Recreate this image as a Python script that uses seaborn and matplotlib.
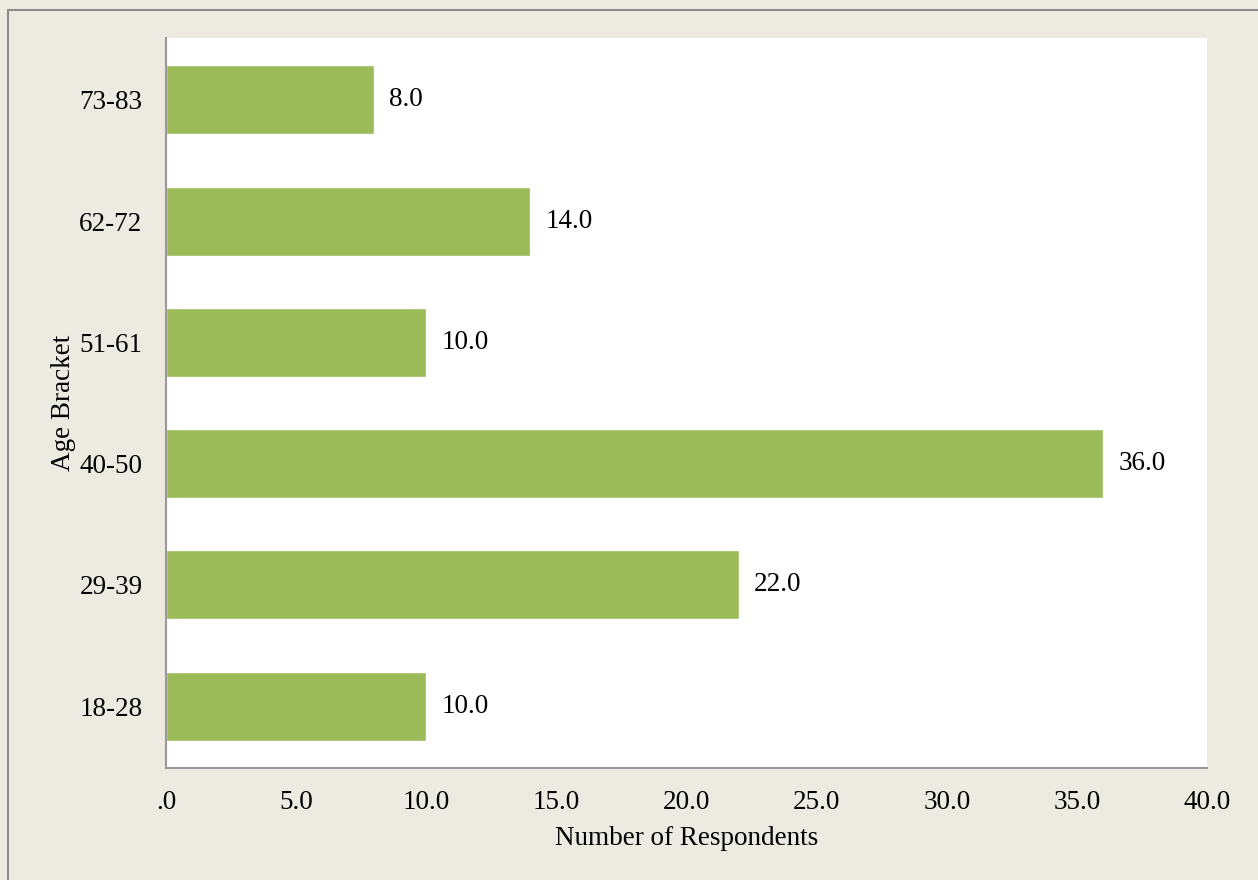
import matplotlib
matplotlib.use("Agg")
import matplotlib.pyplot as plt
import pandas as pd
import seaborn as sns
from matplotlib.patches import Rectangle

# Data
age_brackets = ["73-83", "62-72", "51-61", "40-50", "29-39", "18-28"]
respondents = [8.0, 14.0, 10.0, 36.0, 22.0, 10.0]
x_ticks = [0, 5, 10, 15, 20, 25, 30, 35, 40]
x_tick_labels = [".0", "5.0", "10.0", "15.0", "20.0", "25.0", "30.0", "35.0", "40.0"]

df = pd.DataFrame({"Age Bracket": age_brackets, "Respondents": respondents})

sns.set_style("white")
plt.rcParams["font.family"] = ["Liberation Serif", "DejaVu Serif"]

bg = "#EDEBE1"
bar_color = "#9BBB59"
fs = 19.5

fig = plt.figure(figsize=(12.58, 8.8), dpi=100, facecolor=bg)
ax = fig.add_axes([166 / 1258, 1 - 768 / 880, (1207 - 166) / 1258, (768 - 38) / 880])
ax.set_facecolor("white")

sns.barplot(data=df, y="Age Bracket", x="Respondents", order=age_brackets,
            color=bar_color, saturation=1, width=0.57, ax=ax)

for c in ax.containers:
    ax.bar_label(c, labels=[f"{v:.1f}" for v in respondents], padding=11,
                 fontsize=fs, color="black")

ax.set_xlim(0, 40)
ax.set_ylim(5.51, -0.51)
ax.set_xticks(x_ticks)
ax.set_xticklabels(x_tick_labels)
ax.tick_params(axis="both", length=0, labelsize=fs, colors="black")
ax.tick_params(axis="x", pad=16)
ax.tick_params(axis="y", pad=17)
ax.set_xlabel("Number of Respondents", fontsize=fs, labelpad=8, color="black")
ax.set_ylabel("Age Bracket", fontsize=fs, labelpad=2, color="black")

for side in ["top", "right"]:
    ax.spines[side].set_visible(False)
for side in ["left", "bottom"]:
    ax.spines[side].set_color("#999999")
    ax.spines[side].set_linewidth(1.5)

# outer frame of the chart area
fig.patches.append(Rectangle((8 / 1258, -0.05), 1.2, 1 - 10 / 880 + 0.05,
                             transform=fig.transFigure, fill=False,
                             edgecolor="#8C8C8C", linewidth=1.5))

fig.savefig("out.png", dpi=100, facecolor=bg)
